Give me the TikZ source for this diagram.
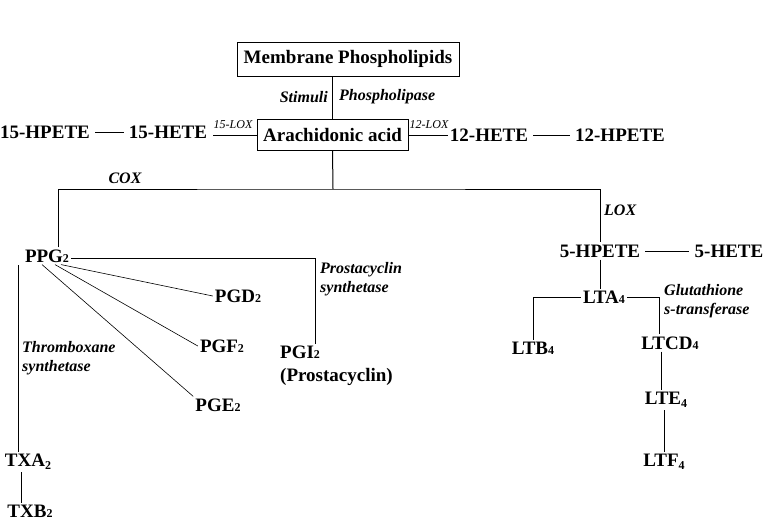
\documentclass[tikz,border=0pt]{standalone}
\usepackage{fontspec}
\setmainfont{Liberation Serif}
\newcommand\subsm[1]{{\fontsize{12}{12}\selectfont #1}}
\newcommand\sublo[1]{\raisebox{-3pt}{\fontsize{12}{12}\selectfont #1}}

\begin{document}
\begin{tikzpicture}[
    x=1pt, y=-1pt,
    chem/.style={font=\fontsize{19}{23}\selectfont\bfseries, inner sep=2pt, align=left},
    enz/.style={font=\fontsize{16}{19}\selectfont\bfseries\itshape, inner sep=0pt, align=left},
    loxlbl/.style={font=\fontsize{12}{13}\selectfont\itshape, inner sep=0pt},
    link/.style={line width=1pt},
    gap link/.style={line width=1pt, shorten <=3pt, shorten >=3pt},
    thin link/.style={line width=0.6pt}
]
\useasboundingbox (0,0) rectangle (770,522);

% top of the cascade
\node[chem, draw, minimum width=222, minimum height=34] (mem) at (348,59) {Membrane Phospholipids};
\node[chem, draw, minimum width=151, minimum height=31] (ara) at (332.5,134.5) {Arachidonic acid};
\node[enz, anchor=east] (stim) at (328,97) {Stimuli};
\node[enz, anchor=west] (plase) at (339,97) {Phospholipase};

\node[chem] (hpete15) at (45,132) {15-HPETE};
\node[chem] (hete15) at (168,132) {15-HETE};
\node[chem] (hete12) at (489,135) {12-HETE};
\node[chem] (hpete12) at (620,135) {12-HPETE};
\node[loxlbl] (lox15) at (233,125) {15-LOX};
\node[loxlbl] (lox12) at (429,125) {12-LOX};

\coordinate (fork) at (333,189);
\node[enz] (cox) at (125,178) {COX};
\node[enz, anchor=west] (lox) at (604,210) {LOX};

% prostanoids
\node[chem] (ppg) at (47,256) {PPG\subsm{2}};
\node[chem] (pgd) at (238,296) {PGD\subsm{2}};
\node[chem] (pgf) at (222,346) {PGF\subsm{2}};
\node[chem] (pge) at (218,405) {PGE\subsm{2}};
\node[chem, anchor=north west] (pgi) at (278,344) {PGI\subsm{2}\\(Prostacyclin)};
\node[enz, anchor=north west] (pcs) at (320,262) {Prostacyclin\\synthetase};
\node[enz, anchor=north west] (txs) at (22,341) {Thromboxane\\synthetase};
\node[chem] (txa) at (28,462) {TXA\sublo{2}};
\node[chem] (txb) at (30,511) {TXB\subsm{2}};

% leukotrienes
\node[chem] (hpete5) at (600,251) {5-HPETE};
\node[chem] (hete5) at (729,251) {5-HETE};
\node[chem] (lta) at (604,297) {LTA\subsm{4}};
\node[chem] (ltb) at (533,348) {LTB\subsm{4}};
\node[chem] (ltcd) at (670,343) {LTCD\subsm{4}};
\node[enz, anchor=north west] (gst) at (664,284) {Glutathione\\s-transferase};
\node[chem] (lte) at (666,400) {LTE\sublo{4}};
\node[chem] (ltf) at (664,462) {LTF\sublo{4}};

\draw[link] (ara.north) -- (ara.north |- mem.south);
\draw[gap link] (hpete15.east) -- (hete15.west);
\draw[link] ([yshift=-1pt]ara.west) -- ([xshift=4pt,yshift=-1pt]ara.west -| hete15.east);
\draw[link] ([yshift=-1pt]ara.east) -- ([yshift=-1pt]ara.east -| hete12.west);
\draw[gap link] (hete12.east) -- (hpete12.west);
\draw[link] (ara.south) -- (fork);
\draw[link] ([xshift=11pt]ppg.north) |- (fork) -| (hpete5.north);

\draw[link] ([yshift=-2pt]ppg.east) -| ([xshift=-21pt]pgi.north);
\draw[thin link] ([xshift=14pt]ppg.south) -- (pgd.west);
\draw[thin link] ([xshift=8pt]ppg.south) -- (pgf.west);
\draw[thin link] ([xshift=-5pt]ppg.south) -- (pge.north west);
\draw[link] ([xshift=-10pt]txa.north) -- ([xshift=-10pt]txa.north |- ppg.south);
\draw[link] ([xshift=-9pt]txb.north) -- ([xshift=-9pt]txb.north |- txa.south);

\draw[gap link] (hpete5.east) -- (hete5.west);
\draw[link] (hpete5.south) -- (hpete5.south |- lta.north);
\draw[link] (lta.west) -| (ltb.north);
\draw[link] (lta.east) -| ([xshift=-11pt]ltcd.north);
\draw[link] ([xshift=-9pt]ltcd.south) -- ([xshift=-9pt]ltcd.south |- lte.north);
\draw[link] (ltf.north) -- (ltf.north |- lte.south);
\end{tikzpicture}
\end{document}
